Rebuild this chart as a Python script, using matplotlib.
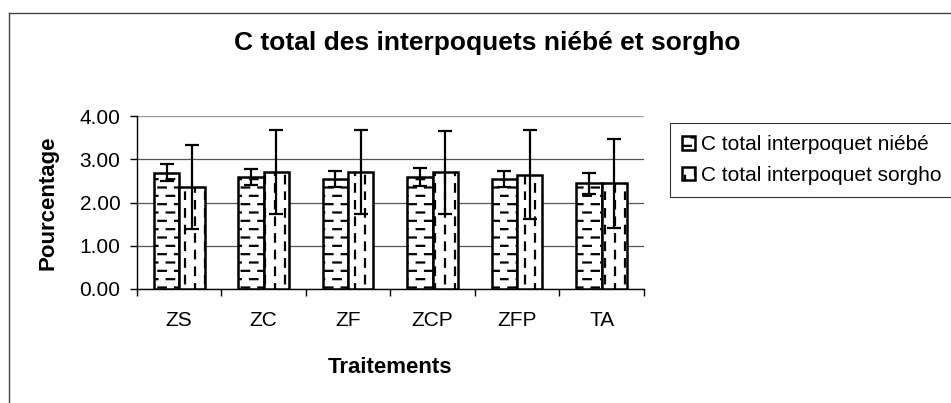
import warnings
import numpy as np
import matplotlib.pyplot as plt
from matplotlib import hatch as mhatch
from matplotlib.path import Path
from matplotlib.lines import Line2D

warnings.filterwarnings('ignore')

# Données
traitements = ['ZS', 'ZC', 'ZF', 'ZCP', 'ZFP', 'TA']
c_niebe = [2.69, 2.59, 2.54, 2.59, 2.54, 2.44]
err_niebe = [0.20, 0.18, 0.18, 0.20, 0.18, 0.25]
c_sorgho = [2.36, 2.70, 2.70, 2.70, 2.64, 2.44]
err_sorgho = [0.97, 0.97, 0.97, 0.96, 1.03, 1.02]


# Motifs en tirets (style Excel) : 'e' = tirets horizontaux, 'i' = tirets verticaux
class Tirets(mhatch.HatchPatternBase):
    def __init__(self, hatch, density):
        self.horiz = 'e' in hatch
        self.vert = 'i' in hatch
        if self.horiz:
            self.n_lignes, self.n_pas = 12, 6
        elif self.vert:
            self.n_lignes, self.n_pas = 10, 6
        else:
            self.n_lignes, self.n_pas = 0, 0
        self.num_vertices = self.n_lignes * self.n_pas * 2

    def set_vertices_and_codes(self, vertices, codes):
        k = 0
        for i in range(self.n_lignes):
            pos = (i + 0.5) / self.n_lignes
            decal = 0.5 / self.n_pas if i % 2 else 0.0
            for j in range(self.n_pas):
                a = j / self.n_pas + decal
                b = a + 0.45 / self.n_pas
                if self.horiz:
                    vertices[k] = (a, pos)
                    vertices[k + 1] = (b, pos)
                else:
                    vertices[k] = (pos, a)
                    vertices[k + 1] = (pos, b)
                codes[k] = Path.MOVETO
                codes[k + 1] = Path.LINETO
                k += 2


mhatch._hatch_types.append(Tirets)

plt.rcParams['font.family'] = ['Liberation Sans', 'DejaVu Sans']
plt.rcParams['hatch.linewidth'] = 1.6

fig = plt.figure(figsize=(9.51, 4.03), dpi=100)
ax = fig.add_axes([0.144, 0.283, 0.533, 0.429])

x = np.arange(len(traitements))
w = 0.3
ax.bar(x - w / 2, c_niebe, w, color='white', edgecolor='black', linewidth=1.8,
       hatch='e', label='C total interpoquet niébé', zorder=3)
ax.bar(x + w / 2, c_sorgho, w, color='white', edgecolor='black', linewidth=1.8,
       hatch='i', label='C total interpoquet sorgho', zorder=3)
ax.errorbar(x - w / 2, c_niebe, yerr=err_niebe, fmt='none', ecolor='black',
            elinewidth=1.6, capsize=5, capthick=1.6, zorder=4)
ax.errorbar(x + w / 2, c_sorgho, yerr=err_sorgho, fmt='none', ecolor='black',
            elinewidth=1.6, capsize=5, capthick=1.6, zorder=4)

ax.set_xlim(-0.5, len(traitements) - 0.5)
ax.set_ylim(0, 4)
ax.set_yticks([0, 1, 2, 3, 4])
ax.set_yticklabels([f'{v:.2f}' for v in [0, 1, 2, 3, 4]], fontsize=15)
ax.set_xticks(x)
ax.set_xticklabels(traitements, fontsize=15)
ax.set_xticks(np.arange(-0.5, len(traitements)), minor=True)
ax.tick_params(axis='x', which='major', length=0, pad=16)
ax.tick_params(axis='x', which='minor', length=5, direction='out', width=1)
ax.tick_params(axis='y', length=5, direction='out', width=1, pad=7)
ax.grid(axis='y', color='#555555', linewidth=0.9, zorder=0)
ax.get_ygridlines()[-1].set_color('#999999')
for s in ['top', 'right']:
    ax.spines[s].set_visible(False)
ax.spines['left'].set_linewidth(1)
ax.spines['bottom'].set_linewidth(1)

fig.text(0.512, 0.893, 'C total des interpoquets niébé et sorgho', fontsize=19,
         fontweight='bold', ha='center', va='center')
ax.set_xlabel('Traitements', fontsize=16, fontweight='bold', labelpad=19)
ax.set_ylabel('Pourcentage', fontsize=16, fontweight='bold', labelpad=15)

leg = fig.legend(loc='upper left', bbox_to_anchor=(0.7045, 0.695), fontsize=15,
                 frameon=True, fancybox=False, edgecolor='black',
                 handlelength=0.6, handleheight=0.6, handletextpad=0.3,
                 borderpad=0.6, labelspacing=0.55, borderaxespad=0)
leg.get_frame().set_linewidth(0.8)

# cadre du graphique
fig.add_artist(Line2D([0.0095, 1.0], [0.968, 0.968], color='#444444', linewidth=1))
fig.add_artist(Line2D([0.0095, 0.0095], [0.0, 0.968], color='#444444', linewidth=1))

plt.savefig('out.png', dpi=100)
